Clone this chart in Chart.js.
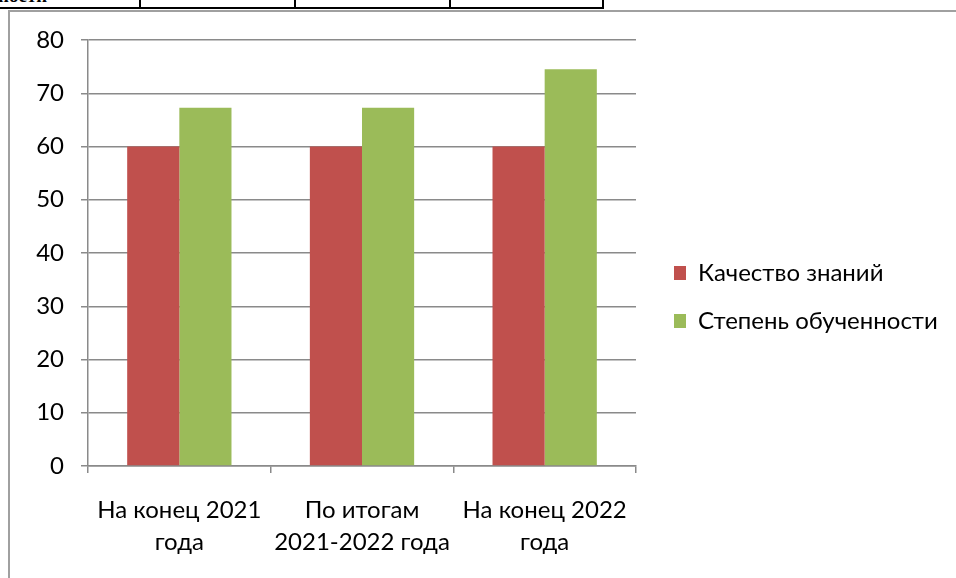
<!DOCTYPE html>
<html>
<head>
<meta charset="utf-8">
<script src="https://cdn.jsdelivr.net/npm/chart.js@4"></script>
<style>
  html, body { margin: 0; padding: 0; background: #fff; }
  body { width: 956px; height: 578px; position: relative; overflow: hidden; }
  /* обрывок таблицы сверху */
  .tbl { position: absolute; left: 0; top: 0; width: 602px; height: 7px; border-bottom: 2px solid #000; }
  .tbl div { position: absolute; top: 0; height: 9px; border-left: 2px solid #000; }
  .tbl span { position: absolute; left: -2px; top: -15px; font: bold 19px "Liberation Serif", serif; }
  .frame { position: absolute; left: 8px; top: 10px; right: 0; bottom: 0; border-left: 2px solid #a0a0a0; border-top: 2px solid #a0a0a0; }
  #wrap { position: absolute; left: 10px; top: 12px; width: 946px; height: 566px; }
</style>
</head>
<body>
<div class="tbl">
  <span>ности</span>
  <div style="left:139px"></div>
  <div style="left:294px"></div>
  <div style="left:449px"></div>
  <div style="left:602px"></div>
</div>
<div class="frame"></div>
<div id="wrap"><canvas id="chart"></canvas></div>
<script>
// Данные диаграммы
const kategorie = [
  ["На конец 2021", "года"],
  ["По итогам", "2021-2022 года"],
  ["На конец 2022", "года"]
];
const kachestvoZnaniy = [60, 60, 60];
const stepenObuchennosti = [67.3, 67.3, 74.5];
const yTicks = [0, 10, 20, 30, 40, 50, 60, 70, 80];

const szrift = "Lato";
const siatka = "#8a8a8a";

// Ширина легенды фиксируется, затем блок сдвигается
const legendaPlagin = {
  id: "legendaPlagin",
  beforeLayout(chart) {
    const lg = chart.legend;
    if (lg && !lg._fixed) {
      const f = lg.fit;
      lg.fit = function () {
        f.call(this);
        this.width = 320;
      };
      lg._fixed = true;
    }
  },
  afterLayout(chart) {
    const lg = chart.legend;
    lg.left += 14;
    lg.right += 14;
    lg.top -= 12;
    lg.bottom -= 12;
  }
};

new Chart(document.getElementById("chart"), {
  type: "bar",
  data: {
    labels: kategorie,
    datasets: [
      {
        label: "Качество знаний",
        data: kachestvoZnaniy,
        backgroundColor: "#C0504D",
        categoryPercentage: 0.571,
        barPercentage: 1.0
      },
      {
        label: "Степень обученности",
        data: stepenObuchennosti,
        backgroundColor: "#9BBB59",
        categoryPercentage: 0.571,
        barPercentage: 1.0
      }
    ]
  },
  options: {
    responsive: true,
    maintainAspectRatio: false,
    animation: false,
    layout: { padding: { top: 28, left: 0, right: 0, bottom: 0 } },
    plugins: {
      legend: {
        position: "right",
        align: "center",
        labels: {
          boxWidth: 12,
          boxHeight: 14,
          padding: 24,
          color: "#000",
          font: { family: szrift, size: 24 }
        }
      },
      tooltip: { enabled: false }
    },
    scales: {
      x: {
        grid: {
          display: true,
          drawOnChartArea: false,
          drawTicks: true,
          tickLength: 7,
          color: siatka,
          lineWidth: 1.5,
          offset: true
        },
        border: { color: siatka, width: 1.5 },
        ticks: {
          color: "#000",
          padding: 21,
          maxRotation: 0,
          font: { family: szrift, size: 24, lineHeight: 1.33 }
        },
        afterFit(scale) { scale.height = 112; }
      },
      y: {
        min: 0,
        max: 80,
        afterBuildTicks(scale) {
          scale.ticks = yTicks.map(v => ({ value: v }));
        },
        grid: {
          color: siatka,
          lineWidth: 1.5,
          tickLength: 7
        },
        border: { color: siatka, width: 1.5 },
        ticks: {
          color: "#000",
          padding: 17,
          font: { family: szrift, size: 24 }
        },
        afterFit(scale) {
          scale.width = 78;
          scale.paddingTop = 0;
          scale.paddingBottom = 0;
        }
      }
    }
  },
  plugins: [legendaPlagin]
});
</script>
</body>
</html>
